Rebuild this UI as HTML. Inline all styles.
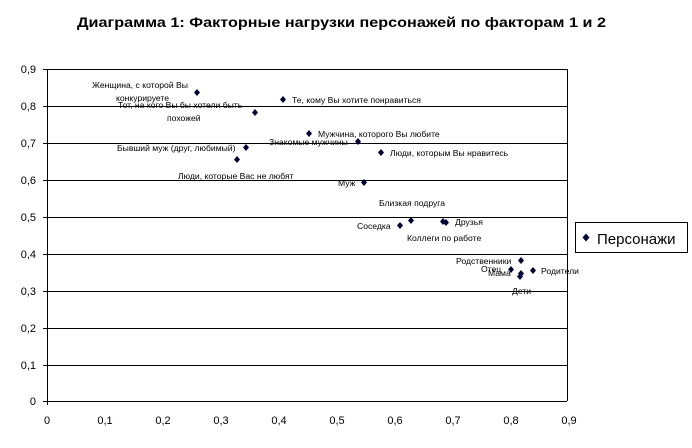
<!DOCTYPE html><html><head><meta charset="utf-8"><style>body{margin:0;background:#fff}svg{display:block}text{font-family:"Liberation Sans",sans-serif}</style></head><body>
<svg width="692" height="448" xmlns="http://www.w3.org/2000/svg">
<text x="77" y="27" font-size="14" font-weight="bold" textLength="529" lengthAdjust="spacingAndGlyphs">Диаграмма 1: Факторные нагрузки персонажей по факторам 1 и 2</text>
<g stroke="#000" stroke-width="1">
<line x1="47" y1="69.5" x2="567" y2="69.5"/><line x1="47" y1="106.5" x2="567" y2="106.5"/><line x1="47" y1="143.5" x2="567" y2="143.5"/><line x1="47" y1="180.5" x2="567" y2="180.5"/><line x1="47" y1="217.5" x2="567" y2="217.5"/><line x1="47" y1="254.5" x2="567" y2="254.5"/><line x1="47" y1="291.5" x2="567" y2="291.5"/><line x1="47" y1="328.5" x2="567" y2="328.5"/><line x1="47" y1="365.5" x2="567" y2="365.5"/><line x1="47" y1="401.5" x2="567" y2="401.5"/>
<line x1="47.5" y1="69" x2="47.5" y2="405"/><line x1="567.5" y1="69" x2="567.5" y2="401"/>
<rect x="575.5" y="222.5" width="112" height="30" fill="none"/>
</g>
<g stroke="#000"><line x1="43" y1="69.5" x2="47" y2="69.5"/><line x1="43" y1="106.5" x2="47" y2="106.5"/><line x1="43" y1="143.5" x2="47" y2="143.5"/><line x1="43" y1="180.5" x2="47" y2="180.5"/><line x1="43" y1="217.5" x2="47" y2="217.5"/><line x1="43" y1="254.5" x2="47" y2="254.5"/><line x1="43" y1="291.5" x2="47" y2="291.5"/><line x1="43" y1="328.5" x2="47" y2="328.5"/><line x1="43" y1="365.5" x2="47" y2="365.5"/><line x1="43" y1="401.5" x2="47" y2="401.5"/></g>
<g font-size="11" text-anchor="end"><text x="36" y="73">0,9</text><text x="36" y="110">0,8</text><text x="36" y="147">0,7</text><text x="36" y="184">0,6</text><text x="36" y="221">0,5</text><text x="36" y="258">0,4</text><text x="36" y="295">0,3</text><text x="36" y="332">0,2</text><text x="36" y="369">0,1</text><text x="36" y="405">0</text></g>
<g font-size="11" text-anchor="middle"><text x="47" y="424">0</text><text x="105" y="424">0,1</text><text x="163" y="424">0,2</text><text x="221" y="424">0,3</text><text x="279" y="424">0,4</text><text x="337" y="424">0,5</text><text x="395" y="424">0,6</text><text x="453" y="424">0,7</text><text x="511" y="424">0,8</text><text x="569" y="424">0,9</text></g>
<g fill="#000033">
<path d="M197 89l3 3.5-3 3.5-3-3.5z"/><path d="M283 96l3 3.5-3 3.5-3-3.5z"/><path d="M255 109l3 3.5-3 3.5-3-3.5z"/><path d="M309 130l3 3.5-3 3.5-3-3.5z"/><path d="M358 138l3 3.5-3 3.5-3-3.5z"/><path d="M381 149l3 3.5-3 3.5-3-3.5z"/><path d="M246 144l3 3.5-3 3.5-3-3.5z"/><path d="M237 156l3 3.5-3 3.5-3-3.5z"/><path d="M364 179l3 3.5-3 3.5-3-3.5z"/><path d="M400 222l3 3.5-3 3.5-3-3.5z"/><path d="M411 217l3 3.5-3 3.5-3-3.5z"/><path d="M443 218l3 3.5-3 3.5-3-3.5z"/><path d="M446 219l3 3.5-3 3.5-3-3.5z"/><path d="M521 257l3 3.5-3 3.5-3-3.5z"/><path d="M511 266l3 3.5-3 3.5-3-3.5z"/><path d="M521 270l3 3.5-3 3.5-3-3.5z"/><path d="M520 273l3 3.5-3 3.5-3-3.5z"/><path d="M533 267l3 3.5-3 3.5-3-3.5z"/>
<path d="M586 233.5l3.5 4-3.5 4-3.5-4z"/></g>
<g font-size="8.6">
<text x="92" y="88">Женщина, с которой Вы</text><text x="116" y="101">конкурируете</text>
<text x="118" y="108">Тот, на кого Вы бы хотели быть</text><text x="167" y="121">похожей</text>
<text x="292" y="103">Те, кому Вы хотите понравиться</text>
<text x="318" y="137">Мужчина, которого Вы любите</text>
<text x="269" y="145">Знакомые мужчины</text>
<text x="390" y="156">Люди, которым Вы нравитесь</text>
<text x="117" y="151">Бывший муж (друг, любимый)</text>
<text x="178" y="179">Люди, которые Вас не любят</text>
<text x="338" y="186">Муж</text>
<text x="379" y="206">Близкая подруга</text>
<text x="357" y="229">Соседка</text>
<text x="455" y="225">Друзья</text>
<text x="407" y="241">Коллеги по работе</text>
<text x="456" y="264">Родственники</text>
<text x="481" y="272">Отец</text><text x="488" y="276">Мама</text>
<text x="541" y="274">Родители</text>
<text x="512" y="294">Дети</text>
</g>
<text x="597" y="244" font-size="15">Персонажи</text>
</svg></body></html>
